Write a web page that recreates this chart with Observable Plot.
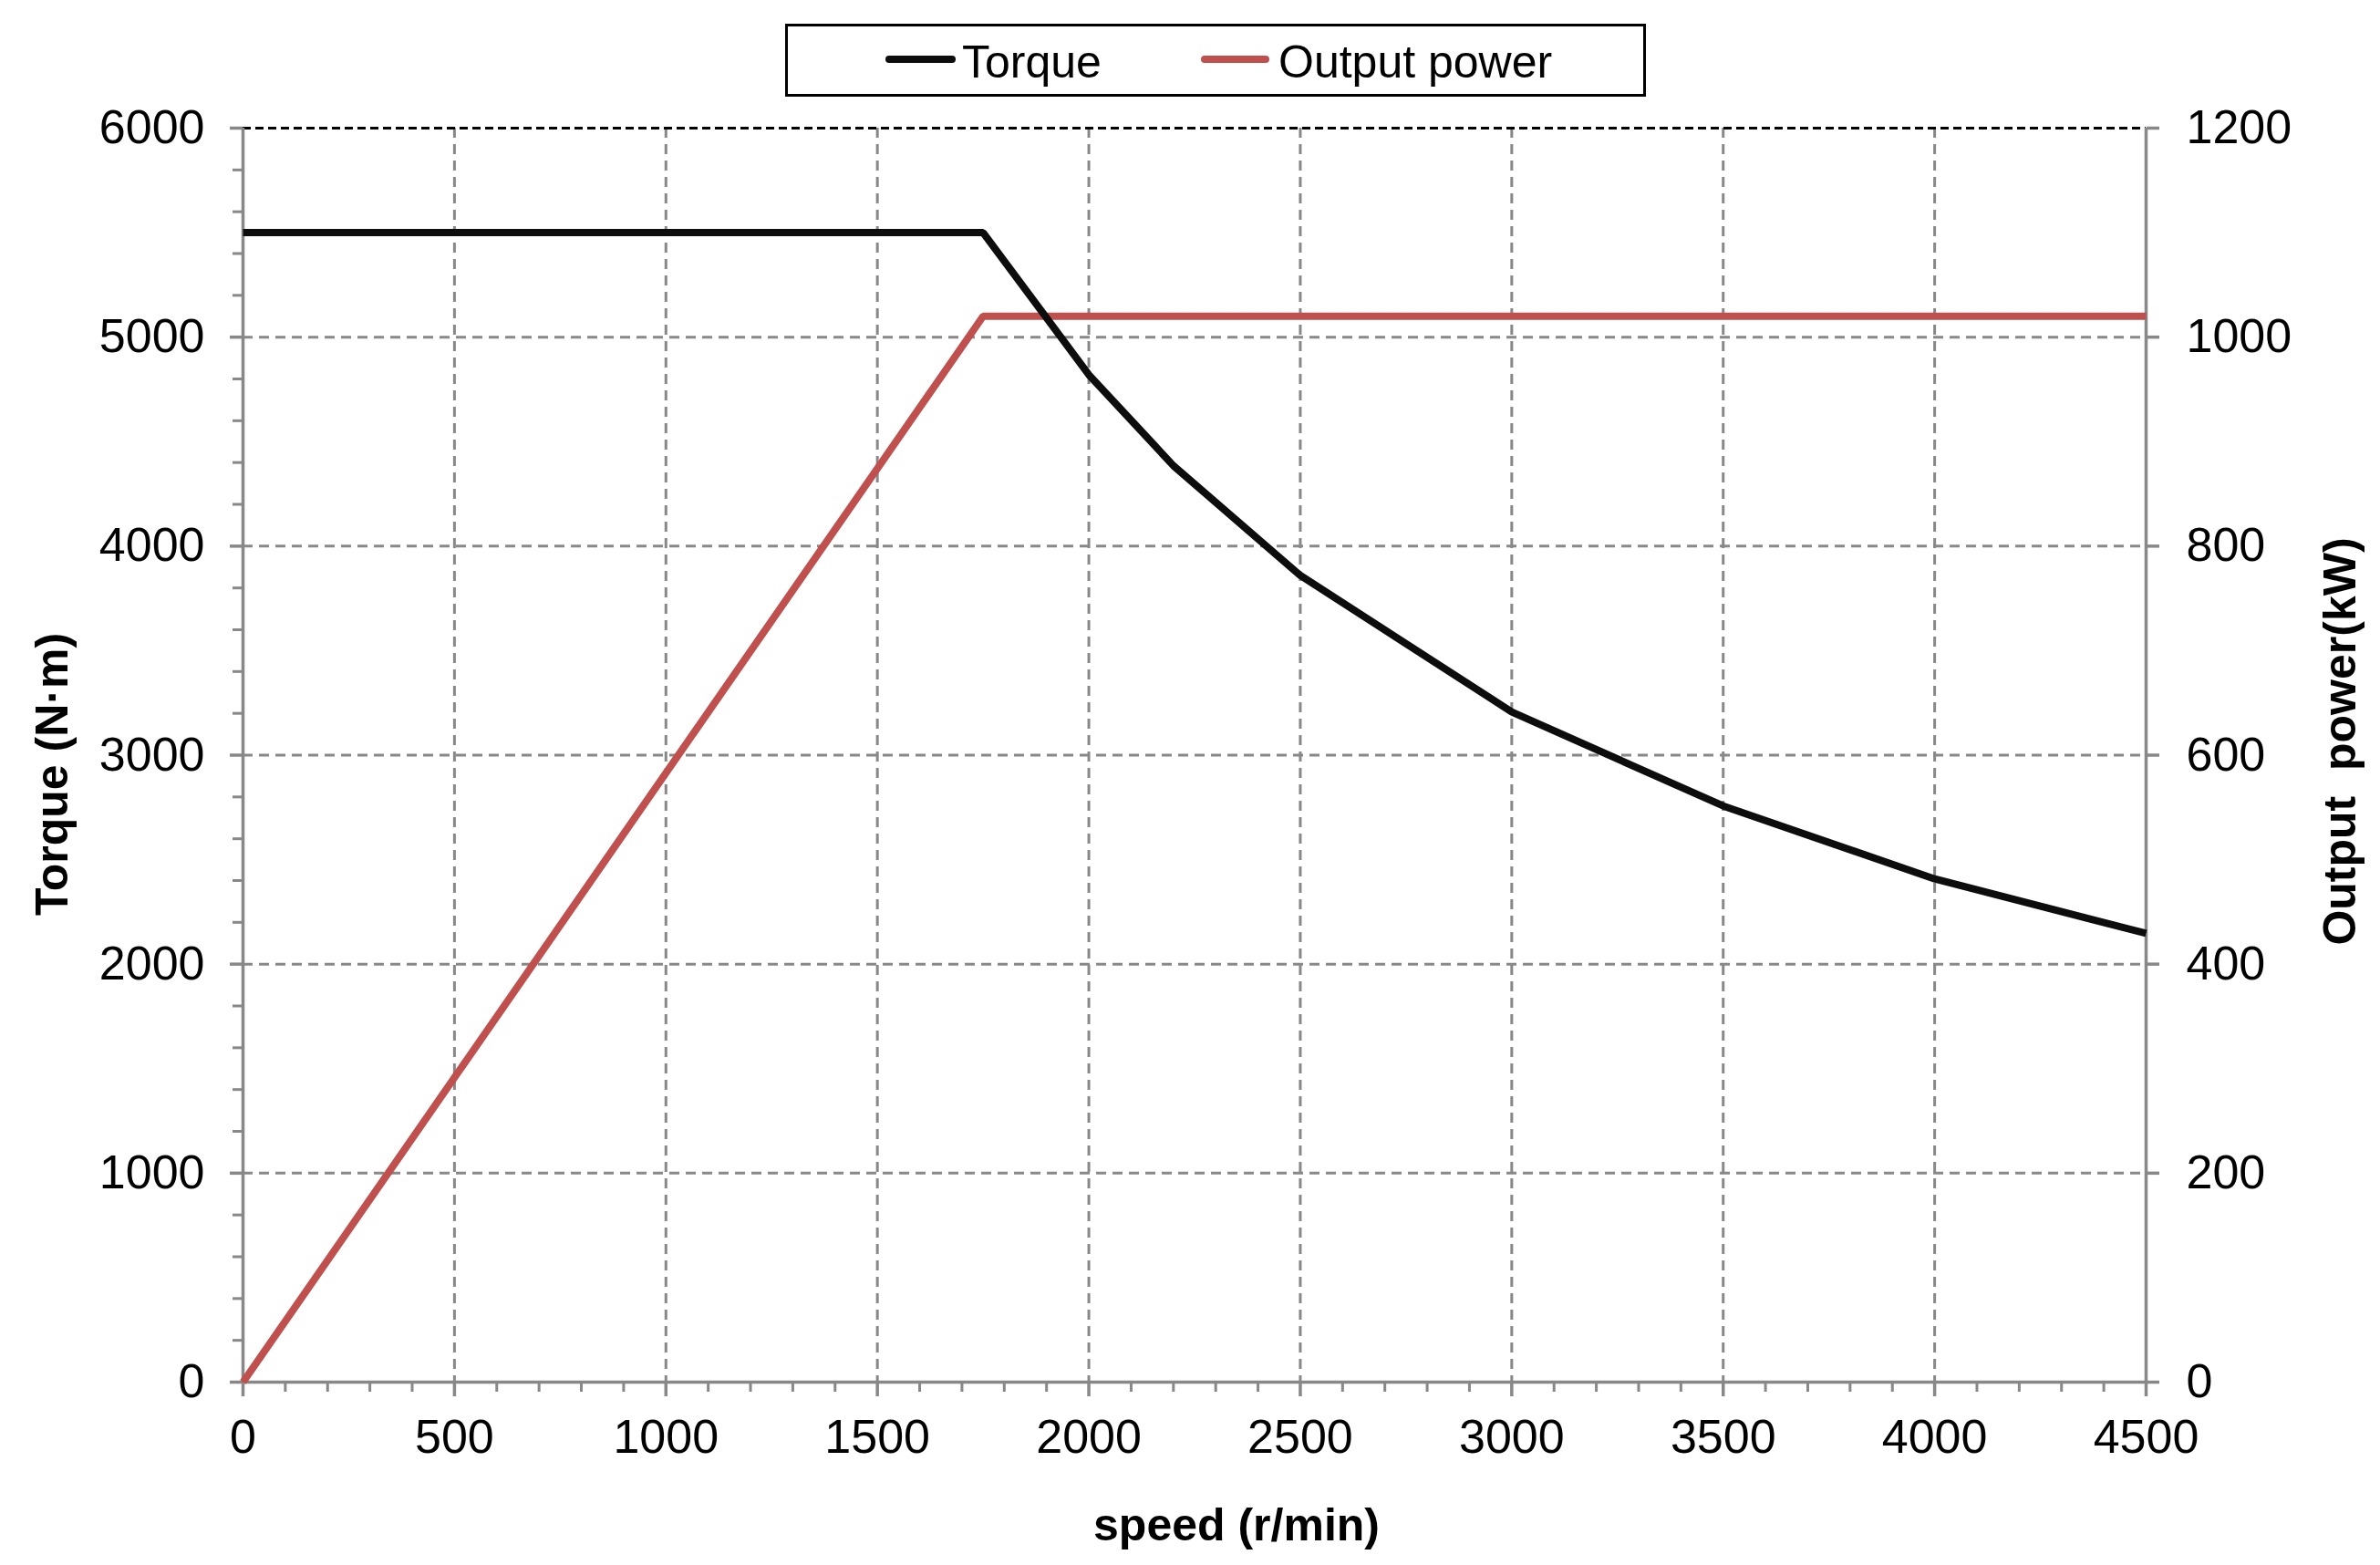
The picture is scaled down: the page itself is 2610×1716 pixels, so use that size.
<!DOCTYPE html>
<html>
<head>
<meta charset="utf-8">
<script src="https://cdn.jsdelivr.net/npm/d3@7"></script>
<script src="https://cdn.jsdelivr.net/npm/@observablehq/plot@0.6"></script>
<style>
  html, body { margin: 0; padding: 0; background: #fff; }
  body { width: 2610px; height: 1716px; font-family: "Liberation Sans", Arial, sans-serif; }
  #legendRow { position: relative; width: 2610px; height: 110px; }
  #legendBox { position: absolute; left: 861px; top: 26px; width: 944px; height: 80px;
               box-sizing: border-box; border: 3px solid #000; background: #fff; }
  .swatch { position: absolute; height: 8px; border-radius: 4px; }
  .ltext { position: absolute; font-size: 50px; line-height: 50px; color: #000; white-space: pre; }
  #chart svg { display: block; }
</style>
</head>
<body>
<div id="legendRow"><div id="legendBox"></div></div>
<div id="chart"></div>
<script>
// ---- data ----
const speed = [0, 1750, 2000, 2200, 2500, 3000, 3500, 4000, 4500];          // r/min
const torque = [5500, 5500, 4820, 4385, 3860, 3207, 2757, 2408, 2147];      // N·m
const powerSpeed = [0, 1750, 4500];                                          // r/min
const power = [0, 1020, 1020];                                               // kW

const xTicks = [0, 500, 1000, 1500, 2000, 2500, 3000, 3500, 4000, 4500];
const yTicks = [0, 1000, 2000, 3000, 4000, 5000, 6000];
const powerTicks = [0, 200, 400, 600, 800, 1000, 1200];

const seriesNames = ["Torque", "Output power"];
const seriesColors = ["#0d0d0d", "#c0504d"];
const xTitle = "speed (r/min)";
const yTitle = "Torque (N·m)";
const y2Title = "Output  power(kW)";

// ---- derived tables ----
const torqueData = speed.map((s, i) => ({speed: s, torque: torque[i]}));
const powerData = powerSpeed.map((s, i) => ({speed: s, power: power[i]}));
const ratio = 6000 / 1200; // secondary axis mapping onto primary scale
const xMinor = d3.range(0, 4501, 100).filter(v => v % 500 !== 0);
const yMinor = d3.range(0, 6001, 200).filter(v => v % 1000 !== 0);
const plain = d => String(d);

// ---- legend (HTML, above the SVG) ----
const box = document.getElementById("legendBox");
const legendItems = [
  {name: seriesNames[0], color: seriesColors[0], sx: 971 - 861, sw: 77, tx: 1055 - 861},
  {name: seriesNames[1], color: seriesColors[1], sx: 1317 - 861, sw: 75, tx: 1402 - 861}
];
for (const it of legendItems) {
  const sw = document.createElement("div");
  sw.className = "swatch";
  sw.style.left = (it.sx - 3) + "px";
  sw.style.top = (65 - 26 - 3 - 4) + "px";
  sw.style.width = it.sw + "px";
  sw.style.background = it.color;
  box.appendChild(sw);
  const t = document.createElement("div");
  t.className = "ltext";
  t.textContent = it.name;
  t.style.left = (it.tx - 3) + "px";
  t.style.top = (43 - 26 - 3) + "px";
  box.appendChild(t);
}

// ---- chart ----
const gridStyle = {stroke: "#888", strokeOpacity: 1, strokeWidth: 3, strokeDasharray: "11,7"};
const axisStroke = {stroke: "#888", strokeWidth: 3.5};
const font = {fontSize: 52, fill: "#000"};
const titleStyle = {fontSize: 50, fontWeight: "bold", fill: "#000", lineAnchor: "middle", textAnchor: "middle"};

const chart = Plot.plot({
  width: 2610,
  height: 1606,
  marginTop: 30,
  marginBottom: 201,
  marginLeft: 266,
  marginRight: 257,
  style: {fontFamily: "'Liberation Sans', Arial, sans-serif", background: "#fff", overflow: "visible"},
  x: {domain: [0, 4500]},
  y: {domain: [0, 6000]},
  marks: [
    // grid
    Plot.gridX(xTicks.filter(v => v > 0 && v < 4500), gridStyle),
    Plot.gridY(yTicks.filter(v => v > 0 && v < 6000), gridStyle),
    Plot.ruleY([6000], {stroke: "#000", strokeWidth: 3, strokeDasharray: "9,5"}),
    // axis lines
    Plot.ruleX([0], axisStroke),
    Plot.ruleX([4500], axisStroke),
    Plot.ruleY([0], axisStroke),
    // left axis
    Plot.axisY(yTicks, {anchor: "left", tickSize: 14, tickPadding: 28, stroke: "#888", strokeWidth: 3.5, ...font, tickFormat: plain, label: null}),
    Plot.axisY(yMinor, {anchor: "left", tickSize: 11, stroke: "#888", strokeWidth: 3, tickFormat: () => "", label: null}),
    // bottom axis
    Plot.axisX(xTicks, {anchor: "bottom", tickSize: 16, tickPadding: 25, stroke: "#888", strokeWidth: 3.5, ...font, tickFormat: plain, label: null}),
    Plot.axisX(xMinor, {anchor: "bottom", tickSize: 11, stroke: "#888", strokeWidth: 3, tickFormat: () => "", label: null}),
    // right axis (power, kW)
    Plot.axisY(powerTicks.map(p => p * ratio), {anchor: "right", tickSize: 14, tickPadding: 30, stroke: "#888", strokeWidth: 3.5, ...font,
      tickFormat: d => String(Math.round(d / ratio)), label: null}),
    // series
    Plot.line(powerData, {x: "speed", y: d => d.power * ratio, stroke: seriesColors[1], strokeWidth: 8, strokeLinejoin: "miter", strokeLinecap: "butt"}),
    Plot.line(torqueData, {x: "speed", y: "torque", stroke: seriesColors[0], strokeWidth: 8, strokeLinejoin: "miter", strokeLinecap: "butt"}),
    // axis titles
    Plot.text([xTitle], {frameAnchor: "bottom", dx: 46, dy: 157, ...titleStyle}),
    Plot.text([yTitle], {frameAnchor: "left", dx: -209, dy: 21, rotate: -90, ...titleStyle}),
    Plot.text([y2Title], {frameAnchor: "right", dx: 213, dy: -15, rotate: -90, ...titleStyle})
  ]
});
document.getElementById("chart").appendChild(chart);
</script>
</body>
</html>
